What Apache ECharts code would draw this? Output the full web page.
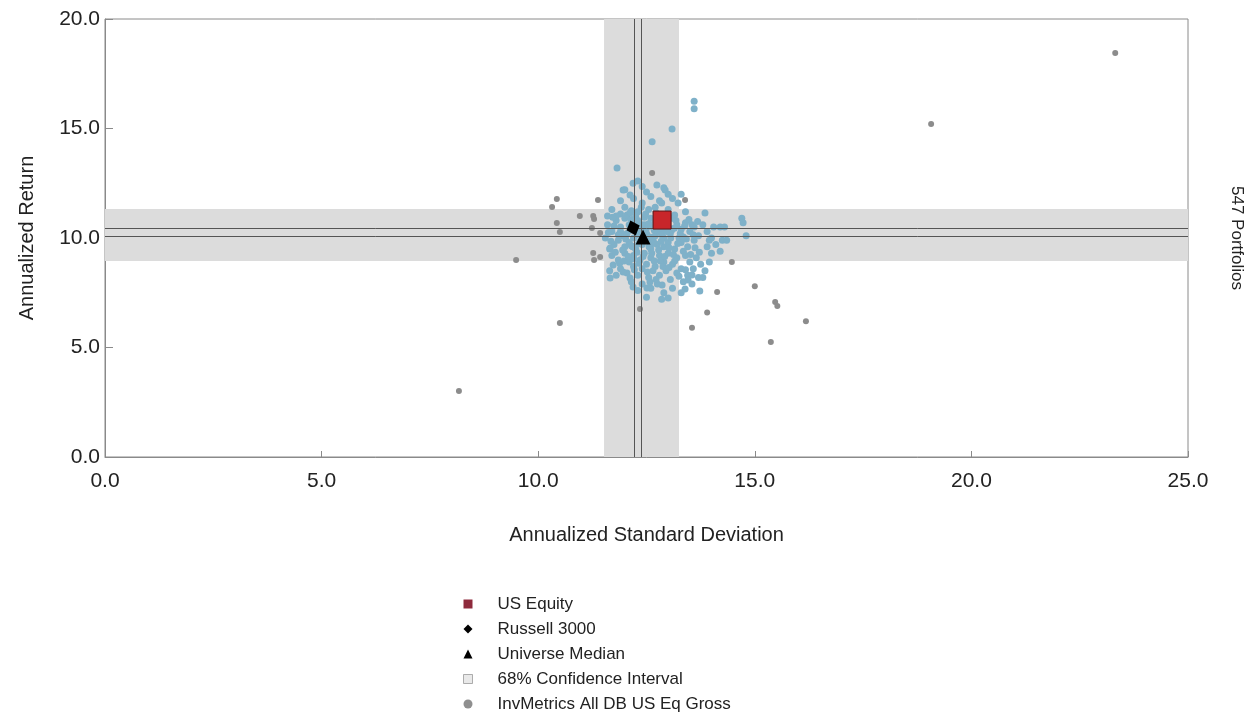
<!DOCTYPE html>
<html>
<head>
<meta charset="utf-8">
<script src="https://cdn.jsdelivr.net/npm/echarts@6/dist/echarts.min.js"></script>
<style>
	html, body { margin: 0; padding: 0; background: #fff; }
	#main { width: 1247px; height: 718px; }
</style>
</head>
<body>
<div id="main"></div>
<script>
// axis ticks
var xTicks = [0, 5, 10, 15, 20, 25];
var yTicks = [0, 5, 10, 15, 20];

// highlighted portfolios [std dev, return]
var usEquity = [[12.86, 10.82]];
var russell3000 = [[12.19, 10.46]];
var universeMedian = [[12.42, 10.05]];

// 68% confidence interval bands and median lines
var ciStdDev = [11.52, 13.25];
var ciReturn = [8.95, 11.32];
var medianStdDevLines = [12.21, 12.37];
var medianReturnLines = [10.44, 10.1];

// universe portfolios (blue dots)
var universeBlue = [
	[11.82, 13.2], [12.63, 14.4], [13.09, 14.98], [13.6, 16.25], [13.6, 15.9],
	[11.96, 12.19], [12.19, 12.5], [12.4, 12.35], [12.74, 12.42], [12.12, 11.96],
	[12.93, 12.19], [13.0, 12.0], [13.23, 11.6], [13.85, 11.14], [12.85, 11.6],
	[12.3, 12.6], [12.0, 12.2], [12.5, 12.1], [12.9, 12.3], [12.6, 11.9],
	[12.2, 11.8], [11.9, 11.7], [12.8, 11.7], [13.1, 11.8], [13.3, 12.0],
	[12.4, 11.6], [12.0, 11.4], [11.7, 11.3], [11.6, 11.0], [12.7, 11.4],
	[13.0, 11.3], [13.4, 11.2], [12.3, 11.2], [11.9, 11.1], [12.15, 11.25],
	[12.55, 11.3], [11.6, 10.6], [11.7, 10.3], [11.55, 10.0], [11.8, 10.8],
	[11.9, 10.5], [11.95, 10.1], [12.0, 10.9], [12.1, 10.6], [12.05, 10.2],
	[12.2, 10.0], [12.3, 10.8], [12.35, 10.4], [12.45, 10.6], [12.5, 10.2],
	[12.6, 10.9], [12.65, 10.5], [12.7, 10.1], [12.8, 10.3], [12.85, 10.7],
	[12.9, 10.0], [13.0, 10.5], [13.05, 10.2], [13.1, 10.9], [13.2, 10.6],
	[13.25, 10.0], [13.3, 10.4], [13.4, 10.7], [13.5, 10.3], [13.6, 10.5],
	[13.7, 10.1], [13.8, 10.6], [11.75, 9.7], [11.85, 9.9], [12.0, 9.6],
	[12.1, 9.8], [12.25, 9.5], [12.4, 9.7], [12.55, 9.9], [12.6, 9.5],
	[12.75, 9.7], [12.9, 9.6], [13.0, 9.8], [13.15, 9.5], [13.3, 9.8],
	[13.45, 9.6], [13.6, 9.9], [11.65, 9.5], [11.9, 10.3], [12.15, 10.35],
	[12.3, 10.15], [12.5, 10.45], [12.7, 10.75], [12.95, 10.85], [11.8, 11.0],
	[12.25, 11.0], [12.45, 10.95], [13.15, 11.05], [11.7, 9.2], [11.85, 9.0],
	[12.0, 9.3], [12.1, 8.9], [12.2, 9.2], [12.35, 9.0], [12.45, 9.3],
	[12.5, 8.8], [12.6, 9.1], [12.7, 8.7], [12.8, 9.2], [12.9, 8.9],
	[13.0, 9.3], [13.1, 8.8], [13.2, 9.1], [13.3, 8.6], [13.4, 9.2],
	[13.5, 8.9], [13.65, 9.1], [13.75, 8.8], [11.9, 8.6], [12.05, 8.4],
	[12.2, 8.7], [12.3, 8.3], [12.4, 8.6], [12.55, 8.2], [12.65, 8.5],
	[12.8, 8.3], [12.95, 8.5], [13.05, 8.1], [13.2, 8.4], [13.35, 8.0],
	[13.45, 8.3], [12.15, 8.0], [12.4, 7.9], [12.6, 7.7], [12.75, 7.9],
	[12.9, 7.5], [13.1, 7.7], [13.3, 7.5], [13.55, 7.9], [13.7, 8.2],
	[12.5, 7.3], [12.85, 7.2], [11.8, 8.3], [11.65, 8.5], [12.3, 7.6],
	[14.7, 10.9], [14.73, 10.7], [14.8, 10.1], [14.0, 10.0], [14.05, 10.5],
	[14.2, 10.5], [14.3, 10.5], [14.25, 9.9], [14.2, 9.4], [14.35, 9.9],
	[13.9, 9.6], [13.85, 8.5], [13.8, 8.2], [13.95, 8.9], [14.0, 9.3],
	[13.73, 7.58], [13.39, 7.67], [13.55, 8.31], [13.46, 8.08], [13.0, 7.26],
	[12.86, 7.85], [12.51, 7.72], [11.66, 9.54], [11.73, 8.77], [11.96, 8.45],
	[12.12, 8.17], [12.19, 7.76], [11.66, 8.17], [12.58, 7.99], [12.35, 9.85],
	[12.65, 9.75], [12.85, 10.15], [12.15, 9.65], [12.55, 10.65], [12.25, 10.75],
	[11.75, 10.55], [11.85, 10.15], [11.95, 9.45], [12.05, 11.05], [12.15, 10.85],
	[12.2, 9.05], [12.28, 9.35], [12.38, 10.6], [12.42, 9.15], [12.48, 11.1],
	[12.58, 10.05], [12.62, 9.3], [12.68, 10.35], [12.72, 11.15], [12.78, 9.45],
	[12.82, 8.95], [12.88, 10.45], [12.92, 9.15], [12.98, 10.65], [13.02, 9.55],
	[13.08, 10.35], [13.12, 9.25], [13.18, 10.8], [13.22, 9.75], [13.28, 10.2],
	[13.35, 9.4], [13.38, 10.55], [13.42, 9.95], [13.48, 10.85], [13.52, 9.25],
	[13.58, 10.15], [13.62, 9.55], [13.68, 10.75], [13.72, 9.35], [11.62, 10.25],
	[11.68, 9.85], [11.72, 10.95], [11.78, 9.35], [11.88, 8.85], [11.98, 8.95],
	[12.08, 9.15], [12.12, 11.15], [12.22, 8.55], [12.32, 8.85], [12.38, 11.4],
	[12.52, 8.45], [12.68, 8.95], [12.72, 8.1], [12.88, 8.7], [13.02, 8.65],
	[13.15, 8.95], [13.25, 8.25], [13.4, 8.55], [13.58, 8.6], [12.02, 9.95],
	[12.18, 9.6], [12.32, 9.75], [12.44, 10.3], [12.56, 9.6], [12.66, 9.85],
	[12.76, 10.55], [12.84, 9.85], [12.96, 10.3], [13.06, 10.0], [13.14, 10.45],
	[13.35, 10.05], [13.55, 10.6], [13.9, 10.3], [13.95, 9.9], [14.1, 9.7]
];

// universe portfolios (grey dots)
var universeGrey = [
	[23.32, 18.45], [19.07, 15.2], [8.17, 3.01], [9.49, 9.0], [10.43, 11.78],
	[10.32, 11.42], [10.96, 11.0], [11.27, 11.0], [11.29, 10.87], [10.43, 10.68],
	[10.5, 10.27], [11.24, 10.46], [11.43, 10.23], [11.38, 11.73], [11.27, 9.32],
	[11.29, 9.0], [11.43, 9.13], [10.5, 6.12], [12.35, 6.76], [13.55, 5.9],
	[13.9, 6.6], [14.47, 8.9], [15.0, 7.8], [14.13, 7.53], [15.47, 7.08],
	[15.52, 6.9], [16.18, 6.2], [15.37, 5.25], [12.63, 12.97], [13.39, 11.73]
];

var chartDom = document.getElementById('main');
var myChart = echarts.init(chartDom);
var option;

var plainFont = '"Liberation Sans", Arial, sans-serif';

option = {
	backgroundColor: '#fff',
	animation: false,
	grid: {
		left: 105,
		right: 59,
		top: 19,
		bottom: 261,
		show: true,
		borderColor: '#8a8a8a',
		borderWidth: 1
	},
	xAxis: {
		type: 'value',
		min: xTicks[0],
		max: xTicks[xTicks.length - 1],
		interval: 5,
		name: 'Annualized Standard Deviation',
		nameLocation: 'middle',
		nameGap: 68,
		nameTextStyle: { fontFamily: plainFont, fontSize: 20, color: '#222' },
		axisLine: { lineStyle: { color: '#8a8a8a' } },
		axisTick: { inside: true, length: 6, lineStyle: { color: '#8a8a8a' } },
		axisLabel: {
			margin: 14,
			fontFamily: plainFont,
			fontSize: 21,
			color: '#222',
			formatter: function (v) { return v.toFixed(1); }
		},
		splitLine: { show: false }
	},
	yAxis: {
		type: 'value',
		min: yTicks[0],
		max: yTicks[yTicks.length - 1],
		interval: 5,
		name: 'Annualized Return',
		nameLocation: 'middle',
		nameRotate: 90,
		nameGap: 68,
		nameTextStyle: { fontFamily: plainFont, fontSize: 20, color: '#222' },
		axisLine: { show: true, lineStyle: { color: '#8a8a8a' } },
		axisTick: { show: true, inside: true, length: 8, lineStyle: { color: '#8a8a8a' } },
		axisLabel: {
			margin: 5,
			fontFamily: plainFont,
			fontSize: 21,
			color: '#222',
			formatter: function (v) { return v.toFixed(1); }
		},
		splitLine: { show: false }
	},
	legend: {
		orient: 'vertical',
		left: 463,
		top: 595,
		padding: 0,
		itemWidth: 9,
		itemHeight: 9,
		itemGap: 7,
		selectedMode: false,
		textStyle: {
			fontFamily: plainFont,
			fontSize: 17,
			color: '#222',
			lineHeight: 18,
			padding: [0, 0, 0, 20]
		},
		data: [
			{ name: 'US Equity', icon: 'rect', itemStyle: { color: '#8e2a3c', borderWidth: 0 } },
			{ name: 'Russell 3000', icon: 'diamond', itemStyle: { color: '#000', borderWidth: 0 } },
			{ name: 'Universe Median', icon: 'triangle', itemStyle: { color: '#000', borderWidth: 0 } },
			{ name: '68% Confidence Interval', icon: 'rect', itemStyle: { color: '#e4e4e4', borderColor: '#9a9a9a', borderWidth: 1 } },
			{ name: 'InvMetrics All DB US Eq Gross', icon: 'circle', itemStyle: { color: '#8f8f8f', borderWidth: 0 } }
		]
	},
	graphic: [
		{
			type: 'text',
			x: 1237,
			y: 238,
			rotation: -Math.PI / 2,
			style: {
				text: '547 Portfolios',
				fontFamily: plainFont,
				fontSize: 17,
				fill: '#222',
				textAlign: 'center',
				textVerticalAlign: 'middle'
			}
		}
	],
	series: [
		{
			name: '68% Confidence Interval',
			type: 'scatter',
			data: [],
			z: 1,
			silent: true,
			markArea: {
				silent: true,
				itemStyle: { color: '#dcdcdc' },
				data: [
					[{ xAxis: ciStdDev[0] }, { xAxis: ciStdDev[1] }],
					[{ yAxis: ciReturn[0] }, { yAxis: ciReturn[1] }]
				]
			},
			markLine: {
				silent: true,
				symbol: 'none',
				label: { show: false },
				lineStyle: { color: '#555', width: 1, type: 'solid' },
				data: [
					{ xAxis: medianStdDevLines[0] },
					{ xAxis: medianStdDevLines[1] },
					{ yAxis: medianReturnLines[0] },
					{ yAxis: medianReturnLines[1] }
				]
			}
		},
		{
			name: 'InvMetrics All DB US Eq Gross',
			type: 'scatter',
			z: 3,
			symbol: 'circle',
			symbolSize: 6,
			itemStyle: { color: '#8c8c8c', opacity: 1 },
			data: universeGrey
		},
		{
			name: 'InvMetrics All DB US Eq Gross',
			type: 'scatter',
			z: 3,
			symbol: 'circle',
			symbolSize: 7,
			itemStyle: { color: '#7fb1c9', opacity: 1 },
			data: universeBlue
		},
		{
			name: 'US Equity',
			type: 'scatter',
			z: 5,
			symbol: 'rect',
			symbolSize: 18,
			itemStyle: { color: '#c8262a', borderColor: '#5a1414', borderWidth: 1, opacity: 1 },
			data: usEquity
		},
		{
			name: 'Russell 3000',
			type: 'scatter',
			z: 5,
			symbol: 'diamond',
			symbolSize: [14, 16],
			symbolRotate: 20,
			itemStyle: { color: '#000', opacity: 1 },
			data: russell3000
		},
		{
			name: 'Universe Median',
			type: 'scatter',
			z: 5,
			symbol: 'triangle',
			symbolSize: 15,
			itemStyle: { color: '#000', opacity: 1 },
			data: universeMedian
		}
	]
};

option && myChart.setOption(option);

window.addEventListener('resize', function () {
	myChart.resize();
});
</script>
</body>
</html>
